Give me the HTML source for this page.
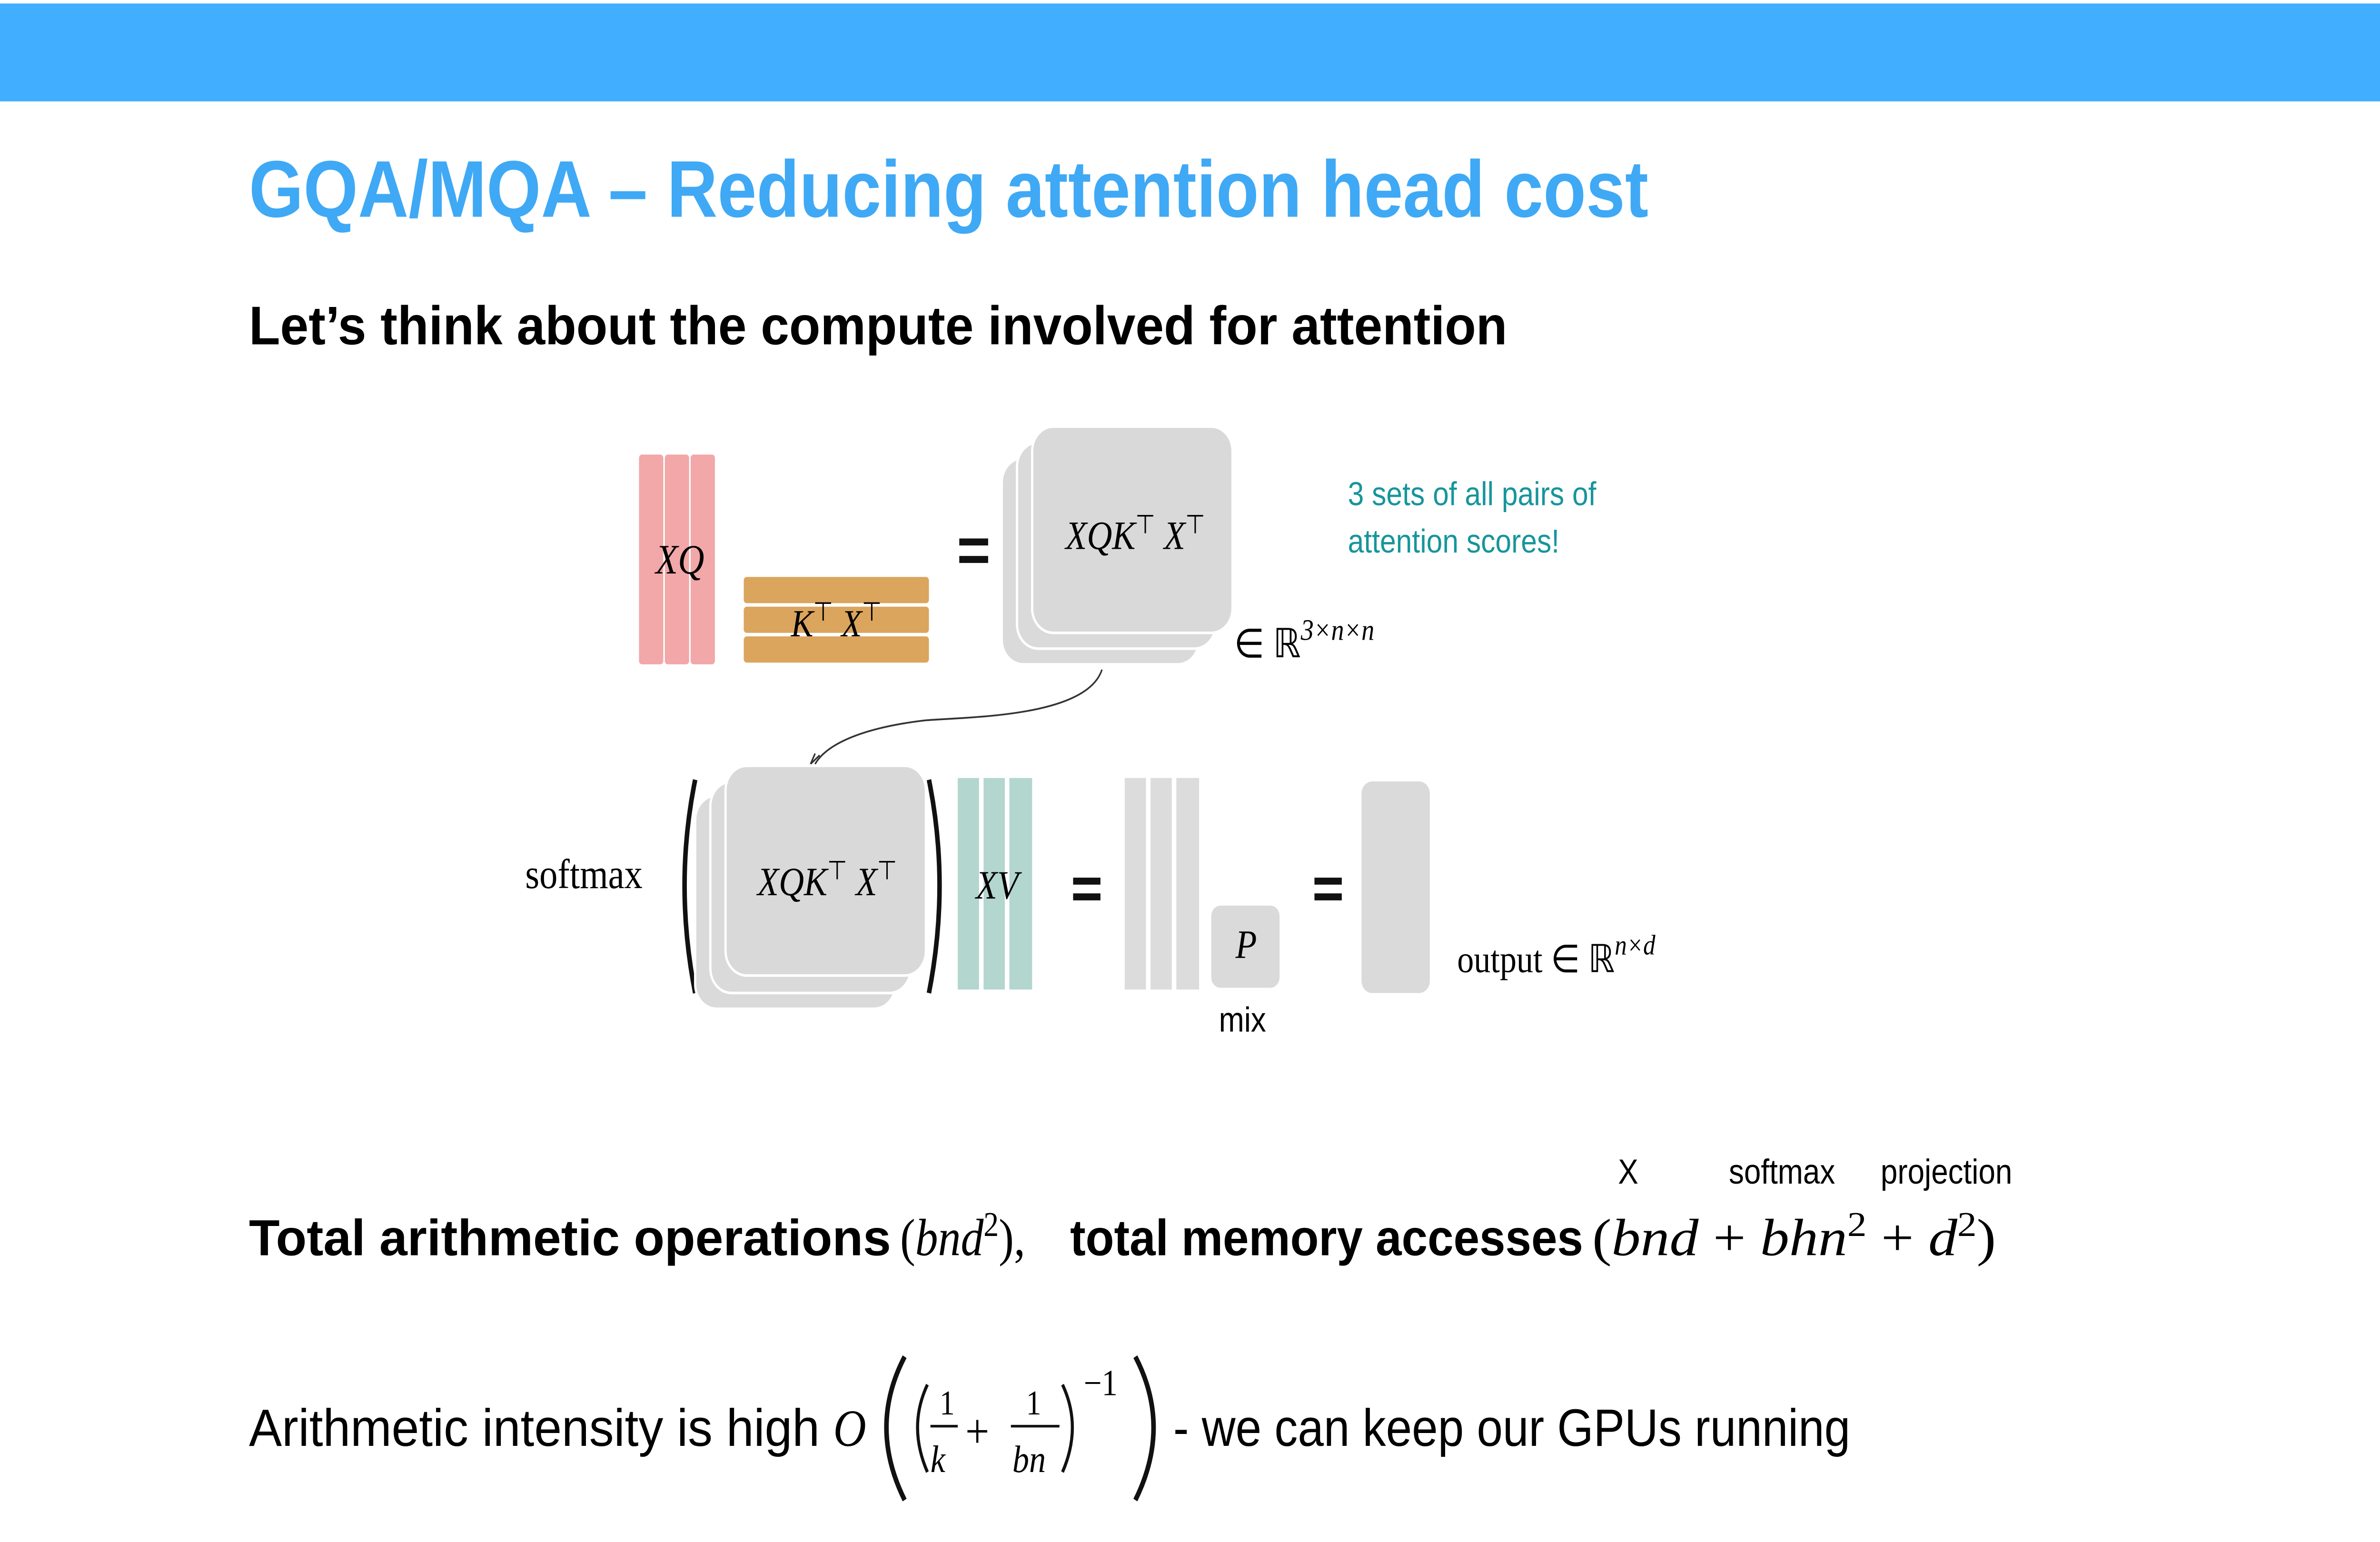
<!DOCTYPE html>
<html><head><meta charset="utf-8"><style>html,body{margin:0;padding:0;background:#fff;overflow:hidden;width:100%;height:100%}svg{display:block;width:100vw;height:100vh}</style></head>
<body>
<svg viewBox="0 0 1568 882" preserveAspectRatio="none" xmlns="http://www.w3.org/2000/svg">
<rect x="0" y="0" width="1568" height="882" fill="#fff"/>
<rect x="0" y="2" width="1568" height="56" fill="#42aeff"/>
<text x="164" y="124" font-family="Liberation Sans, sans-serif" font-weight="bold" font-size="46" fill="#3fa9f5" textLength="922" lengthAdjust="spacingAndGlyphs">GQA/MQA – Reducing attention head cost</text>
<text x="164" y="197" font-family="Liberation Sans, sans-serif" font-weight="bold" font-size="31" fill="#000" textLength="829" lengthAdjust="spacingAndGlyphs">Let’s think about the compute involved for attention</text>

<g font-family="Liberation Serif, serif">
<rect x="421" y="260" width="16" height="120" rx="2" fill="#f2a7a8"/>
<rect x="438" y="260" width="16" height="120" rx="2" fill="#f2a7a8"/>
<rect x="455" y="260" width="16" height="120" rx="2" fill="#f2a7a8"/>
<text x="448" y="328" font-size="24" font-style="italic" text-anchor="middle">XQ</text>
<rect x="490" y="330" width="122" height="15" rx="2" fill="#dba55e"/>
<rect x="490" y="347" width="122" height="15" rx="2" fill="#dba55e"/>
<rect x="490" y="364" width="122" height="15" rx="2" fill="#dba55e"/>
<text x="551" y="364" font-size="22" font-style="italic" text-anchor="middle">K<tspan font-style="normal" font-size="15" dy="-9">⊤</tspan><tspan dy="9"> X</tspan><tspan font-style="normal" font-size="15" dy="-9">⊤</tspan></text>
<rect x="632" y="308" width="19" height="4" fill="#111"/><rect x="632" y="318" width="19" height="4" fill="#111"/>
<rect x="660" y="262" width="130" height="118" rx="14" fill="#dadada" stroke="#fff" stroke-width="1.5"/>
<rect x="670" y="253" width="131" height="118" rx="14" fill="#dadada" stroke="#fff" stroke-width="1.5"/>
<rect x="680" y="244" width="132" height="118" rx="14" fill="#d9d9d9" stroke="#fff" stroke-width="1.5"/>
<text x="748" y="314" font-size="23" font-style="italic" text-anchor="middle">XQK<tspan font-style="normal" font-size="15" dy="-9">⊤</tspan><tspan dy="9"> X</tspan><tspan font-style="normal" font-size="15" dy="-9">⊤</tspan></text>
<text x="813" y="376" font-size="23">∈ ℝ<tspan font-size="17" dy="-10" font-style="italic">3×n×n</tspan></text>
<path d="M726,383 C716,410 640,410 610,412 C570,416 545,425 537,437" fill="none" stroke="#333" stroke-width="1"/>
<path d="M534,437 L540,432 M534,437 L537,431" stroke="#333" stroke-width="1"/>
<text x="346" y="508" font-size="24">softmax</text>
<path d="M458,446 Q444,506 458,568" fill="none" stroke="#111" stroke-width="3"/>
<rect x="458" y="455" width="132" height="122" rx="14" fill="#dadada" stroke="#fff" stroke-width="1.5"/>
<rect x="468" y="447" width="132" height="121" rx="14" fill="#dadada" stroke="#fff" stroke-width="1.5"/>
<rect x="478" y="438" width="132" height="120" rx="14" fill="#d9d9d9" stroke="#fff" stroke-width="1.5"/>
<path d="M612,446 Q626,506 612,568" fill="none" stroke="#111" stroke-width="3"/>
<text x="545" y="512" font-size="23" font-style="italic" text-anchor="middle">XQK<tspan font-style="normal" font-size="15" dy="-9">⊤</tspan><tspan dy="9"> X</tspan><tspan font-style="normal" font-size="15" dy="-9">⊤</tspan></text>
<rect x="631" y="445" width="14" height="121" fill="#b3d6cf"/>
<rect x="648" y="445" width="14" height="121" fill="#b3d6cf"/>
<rect x="665" y="445" width="15" height="121" fill="#b3d6cf"/>
<text x="657" y="514" font-size="23" font-style="italic" text-anchor="middle">XV</text>
<rect x="707" y="502" width="18" height="4" fill="#111"/><rect x="707" y="511" width="18" height="4" fill="#111"/>
<rect x="741" y="445" width="14" height="121" fill="#dcdcdc"/>
<rect x="758" y="445" width="14" height="121" fill="#dcdcdc"/>
<rect x="775" y="445" width="15" height="121" fill="#dcdcdc"/>
<rect x="798" y="518" width="45" height="47" rx="6" fill="#dadada"/>
<text x="821" y="548" font-size="23" font-style="italic" text-anchor="middle">P</text>
<text x="803" y="590" font-size="20" font-family="Liberation Sans, sans-serif">mix</text>
<rect x="866" y="502" width="18" height="4" fill="#111"/><rect x="866" y="511" width="18" height="4" fill="#111"/>
<rect x="897" y="447" width="45" height="121" rx="7" fill="#dadada"/>
<text x="960" y="556" font-size="22">output ∈ ℝ<tspan font-size="16" dy="-10" font-style="italic">n×d</tspan></text>
</g>
<text font-family="Liberation Sans, sans-serif" font-size="19" fill="#17959c"><tspan x="888" y="289">3 sets of all pairs of</tspan><tspan x="888" y="316">attention scores!</tspan></text>

<g font-family="Liberation Sans, sans-serif" font-size="20">
<text x="1066" y="677">X</text><text x="1139" y="677">softmax</text><text x="1239" y="677">projection</text>
</g>
<text x="164" y="718" font-family="Liberation Sans, sans-serif" font-weight="bold" font-size="29" textLength="423" lengthAdjust="spacingAndGlyphs">Total arithmetic operations</text>
<text x="593" y="718" font-family="Liberation Serif, serif" font-size="30">(<tspan font-style="italic">bnd</tspan><tspan font-size="20" dy="-11">2</tspan><tspan dy="11">),</tspan></text>
<text x="705" y="718" font-family="Liberation Sans, sans-serif" font-weight="bold" font-size="29" textLength="338" lengthAdjust="spacingAndGlyphs">total memory accesses</text>
<text x="1049" y="718" font-family="Liberation Serif, serif" font-size="30" textLength="266" lengthAdjust="spacingAndGlyphs">(<tspan font-style="italic">bnd</tspan> + <tspan font-style="italic">bhn</tspan><tspan font-size="20" dy="-11">2</tspan><tspan dy="11"> + </tspan><tspan font-style="italic">d</tspan><tspan font-size="20" dy="-11">2</tspan><tspan dy="11">)</tspan></text>

<text x="164" y="827" font-family="Liberation Sans, sans-serif" font-size="30" textLength="376" lengthAdjust="spacingAndGlyphs">Arithmetic intensity is high</text>
<g font-family="Liberation Serif, serif">
<text x="549" y="827" font-size="30" font-style="italic">O</text>
<path d="M596,776 Q572,816 596,858" fill="none" stroke="#111" stroke-width="3"/>
<path d="M611,792 Q598,816 611,842" fill="none" stroke="#111" stroke-width="2"/>
<text x="619" y="809" font-size="20">1</text>
<rect x="613" y="815" width="18" height="1.5" fill="#111"/>
<text x="613" y="842" font-size="22" font-style="italic">k</text>
<text x="636" y="828" font-size="28">+</text>
<text x="676" y="809" font-size="20">1</text>
<rect x="666" y="815" width="32" height="1.5" fill="#111"/>
<text x="667" y="842" font-size="22" font-style="italic">bn</text>
<path d="M700,792 Q713,816 700,842" fill="none" stroke="#111" stroke-width="2"/>
<text x="714" y="798" font-size="21">−1</text>
<path d="M748,776 Q772,816 748,858" fill="none" stroke="#111" stroke-width="3"/>
</g>
<text x="773" y="827" font-family="Liberation Sans, sans-serif" font-size="30" textLength="446" lengthAdjust="spacingAndGlyphs">- we can keep our GPUs running</text>
</svg>
</body></html>
